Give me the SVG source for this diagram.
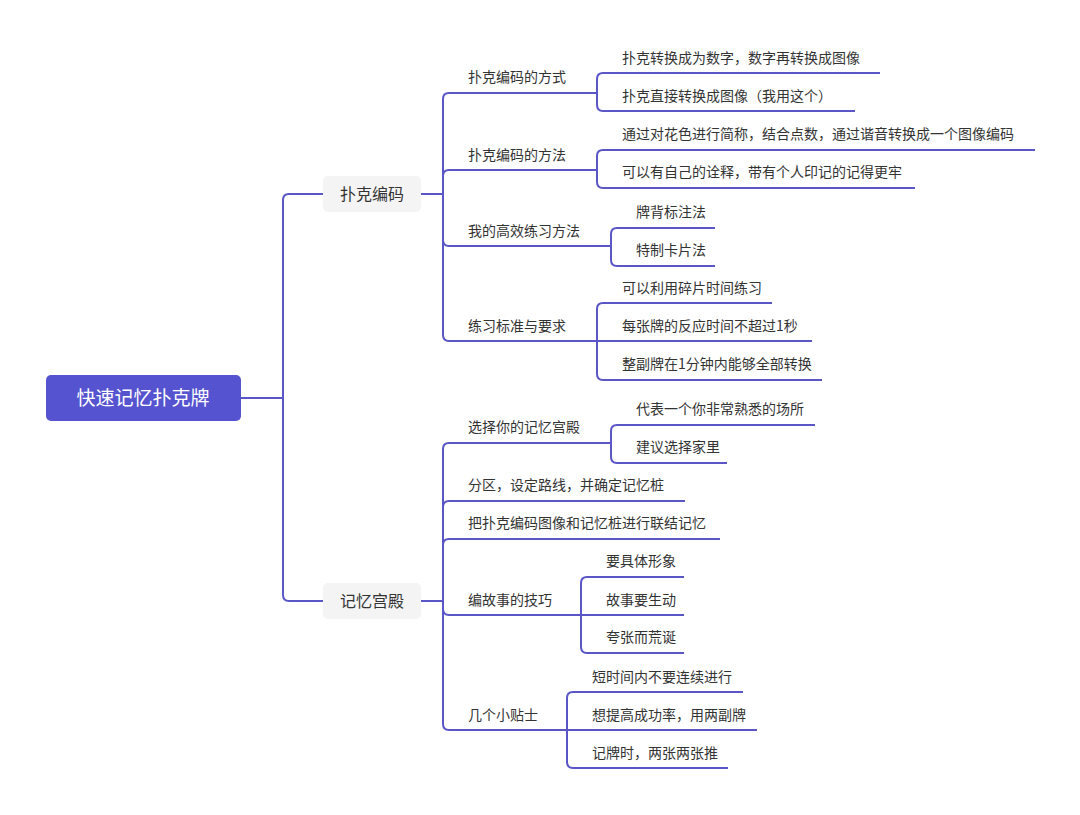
<svg xmlns="http://www.w3.org/2000/svg" width="1080" height="815" viewBox="0 0 1080 815">
<style>
.c{fill:none;stroke:#5a56c6;stroke-width:2}
text{font-family:"Noto Sans CJK SC","Noto Sans",sans-serif;font-size:14px;fill:#333}
.r{fill:#fff;font-size:19px}
.l1{font-size:16px}
</style>
<rect width="1080" height="815" fill="#fff"/>
<g id="connectors">
<path class="c" d="M241 398H283V200Q283 194 289 194H323"/>
<path class="c" d="M241 398H283V595Q283 601 289 601H323"/>
<path class="c" d="M421 194H443V99Q443 93 449 93H597"/>
<path class="c" d="M421 194H443V176Q443 170 449 170H597"/>
<path class="c" d="M421 194H443V240Q443 246 449 246H611"/>
<path class="c" d="M421 194H443V335Q443 341 449 341H597"/>
<path class="c" d="M597 93V79Q597 73 603 73H880"/>
<path class="c" d="M597 93V105Q597 111 603 111H855"/>
<path class="c" d="M597 170V156Q597 150 603 150H1035"/>
<path class="c" d="M597 170V182Q597 188 603 188H915"/>
<path class="c" d="M611 246V234Q611 228 617 228H715"/>
<path class="c" d="M611 246V260Q611 266 617 266H715"/>
<path class="c" d="M597 341V309Q597 303 603 303H772"/>
<path class="c" d="M597 341H812"/>
<path class="c" d="M597 341V374Q597 380 603 380H822"/>
<path class="c" d="M421 601H443V449Q443 443 449 443H611"/>
<path class="c" d="M421 601H443V507Q443 501 449 501H685"/>
<path class="c" d="M421 601H443V545Q443 539 449 539H720"/>
<path class="c" d="M421 601H443V609Q443 615 449 615H581"/>
<path class="c" d="M421 601H443V724Q443 730 449 730H567"/>
<path class="c" d="M611 443V431Q611 425 617 425H815"/>
<path class="c" d="M611 443V457Q611 463 617 463H727"/>
<path class="c" d="M581 615V583Q581 577 587 577H684"/>
<path class="c" d="M581 615H684"/>
<path class="c" d="M581 615V647Q581 653 587 653H684"/>
<path class="c" d="M567 730V698Q567 692 573 692H743"/>
<path class="c" d="M567 730H757"/>
<path class="c" d="M567 730V762Q567 768 573 768H728"/>
</g>
<g id="root"><rect x="46" y="375" width="195" height="46" rx="5" fill="#5553cf"/><text class="r" x="143" y="405" text-anchor="middle">快速记忆扑克牌</text></g>
<g id="n1"><rect x="323" y="176" width="98" height="36" rx="5" fill="#f4f4f4"/><text class="l1" x="372" y="200" text-anchor="middle">扑克编码</text></g>
<g id="n2"><rect x="323" y="583" width="98" height="36" rx="5" fill="#f4f4f4"/><text class="l1" x="372" y="607" text-anchor="middle">记忆宫殿</text></g>
<g id="n1a"><text x="468" y="82">扑克编码的方式</text></g>
<g id="n1a1"><text x="622" y="63">扑克转换成为数字，数字再转换成图像</text></g>
<g id="n1a2"><text x="622" y="101">扑克直接转换成图像（我用这个）</text></g>
<g id="n1b"><text x="468" y="160">扑克编码的方法</text></g>
<g id="n1b1"><text x="622" y="139">通过对花色进行简称，结合点数，通过谐音转换成一个图像编码</text></g>
<g id="n1b2"><text x="622" y="177">可以有自己的诠释，带有个人印记的记得更牢</text></g>
<g id="n1c"><text x="468" y="236">我的高效练习方法</text></g>
<g id="n1c1"><text x="636" y="217">牌背标注法</text></g>
<g id="n1c2"><text x="636" y="255">特制卡片法</text></g>
<g id="n1d"><text x="468" y="331">练习标准与要求</text></g>
<g id="n1d1"><text x="622" y="293">可以利用碎片时间练习</text></g>
<g id="n1d2"><text x="622" y="331">每张牌的反应时间不超过1秒</text></g>
<g id="n1d3"><text x="622" y="369">整副牌在1分钟内能够全部转换</text></g>
<g id="n2a"><text x="468" y="432">选择你的记忆宫殿</text></g>
<g id="n2a1"><text x="636" y="414">代表一个你非常熟悉的场所</text></g>
<g id="n2a2"><text x="636" y="452">建议选择家里</text></g>
<g id="n2b"><text x="468" y="490">分区，设定路线，并确定记忆桩</text></g>
<g id="n2c"><text x="468" y="528">把扑克编码图像和记忆桩进行联结记忆</text></g>
<g id="n2d"><text x="468" y="605">编故事的技巧</text></g>
<g id="n2d1"><text x="606" y="566">要具体形象</text></g>
<g id="n2d2"><text x="606" y="605">故事要生动</text></g>
<g id="n2d3"><text x="606" y="642">夸张而荒诞</text></g>
<g id="n2e"><text x="468" y="720">几个小贴士</text></g>
<g id="n2e1"><text x="592" y="682">短时间内不要连续进行</text></g>
<g id="n2e2"><text x="592" y="720">想提高成功率，用两副牌</text></g>
<g id="n2e3"><text x="592" y="758">记牌时，两张两张推</text></g>
</svg>
